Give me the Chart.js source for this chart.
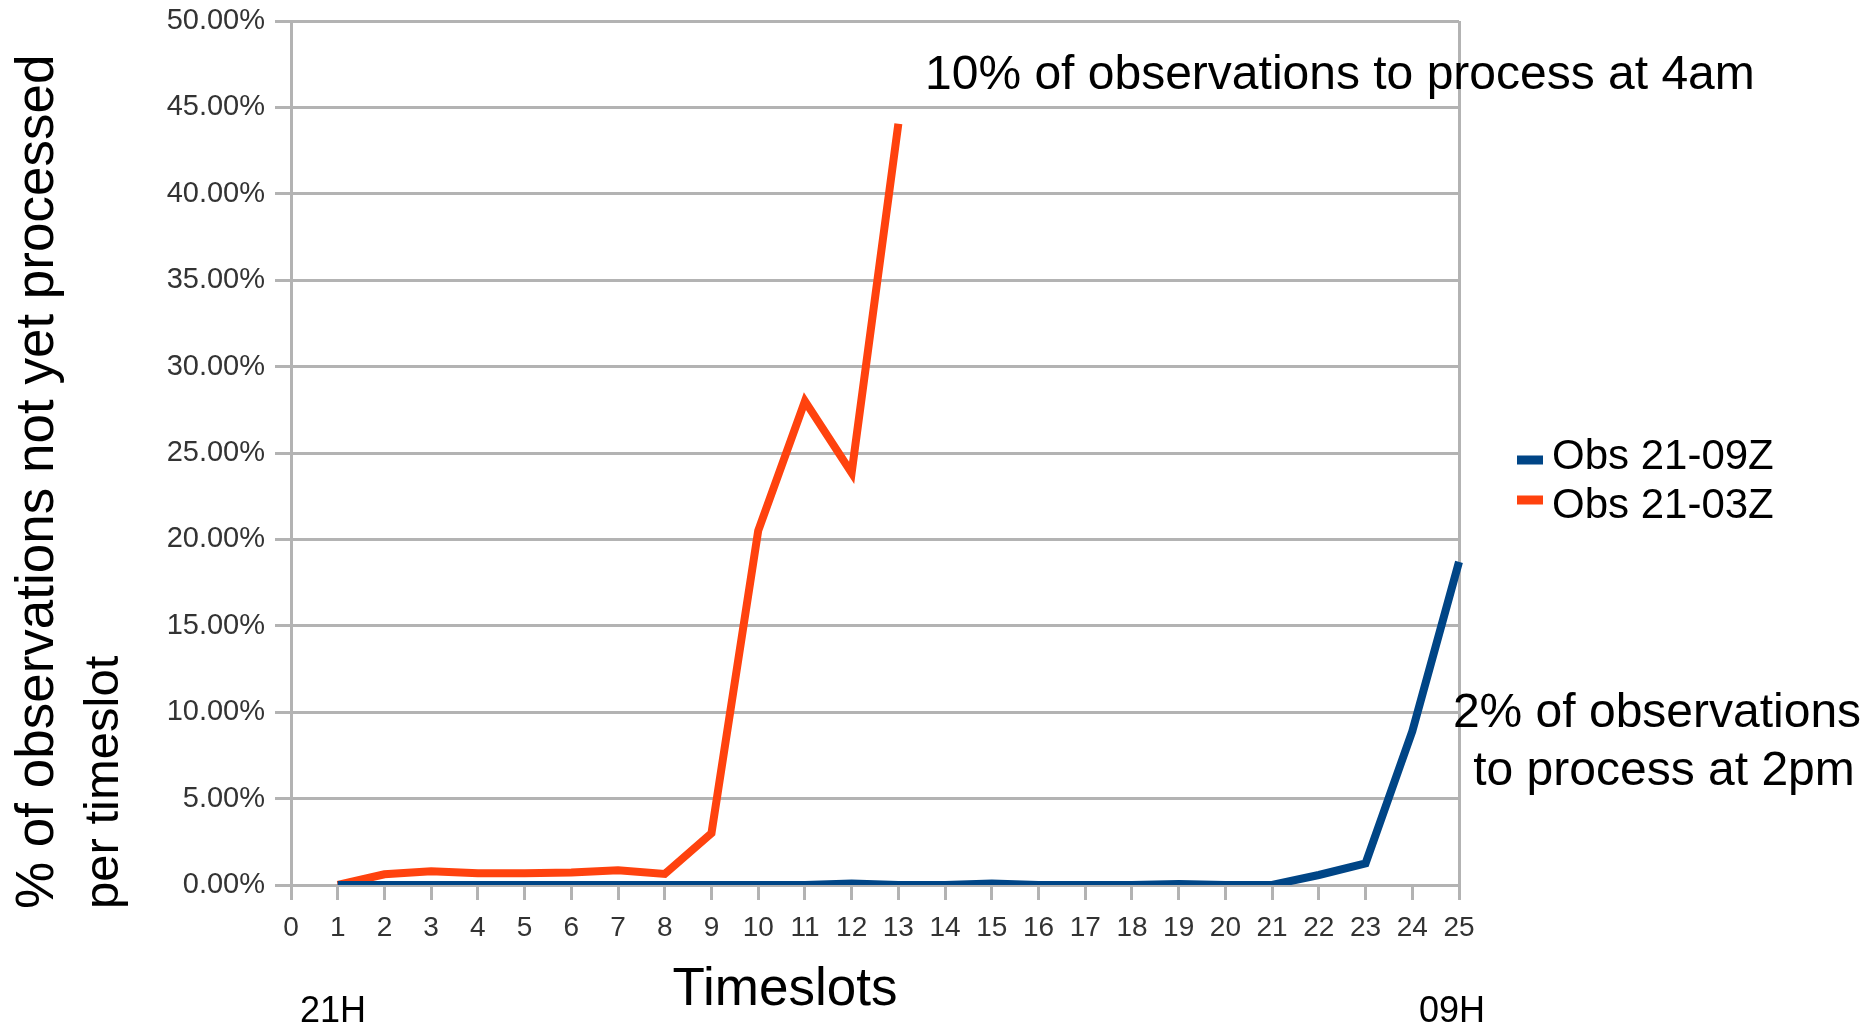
<!DOCTYPE html>
<html>
<head>
<meta charset="utf-8">
<title>Observations not yet processed per timeslot</title>
<script src="https://cdn.jsdelivr.net/npm/chart.js@4.4.1/dist/chart.umd.min.js"></script>
<style>
  html, body { margin: 0; padding: 0; background: #ffffff; }
</style>
</head>
<body>
<canvas id="chartObs" width="1863" height="1026"></canvas>
<script>
// timeslot labels on the x axis
const TIMESLOTS = ['0', '1', '2', '3', '4', '5', '6', '7', '8', '9', '10', '11', '12',
  '13', '14', '15', '16', '17', '18', '19', '20', '21', '22', '23', '24', '25'];

// % of observations not yet processed (slot 0 has no value)
const OBS_21_09Z = [null, 0, 0, 0, 0, 0, 0, 0, 0, 0, 0, 0, 0.08, 0, 0, 0.08, 0, 0, 0,
  0.06, 0, 0, 0.58, 1.25, 8.9, 18.7];
const OBS_21_03Z = [null, 0, 0.62, 0.8, 0.68, 0.68, 0.72, 0.86, 0.64, 3.0, 20.5, 28.0,
  23.85, 44.05, null, null, null, null, null, null, null, null, null, null, null, null];

const SERIES_LABELS = ['Obs 21-09Z', 'Obs 21-03Z'];
const Y_MAX = 50;
const Y_STEP = 5;

const BLUE = '#004586';
const ORANGE = '#ff420e';
const GRID = '#b3b3b3';
const TICK_TEXT = '#333333';
const FONT = "'Liberation Sans', Arial, sans-serif";

const textPlugin = {
  id: 'textPlugin',
  afterDraw(chart) {
    const { ctx } = chart;
    ctx.save();
    ctx.fillStyle = '#000000';
    ctx.textBaseline = 'alphabetic';

    // y axis title, two lines, rotated
    ctx.textAlign = 'left';
    ctx.save();
    ctx.font = `53px ${FONT}`;
    ctx.translate(53, 909);
    ctx.rotate(-Math.PI / 2);
    ctx.fillText('% of observations not yet processed', 0, 0);
    ctx.restore();
    ctx.save();
    ctx.font = `49px ${FONT}`;
    ctx.translate(118, 909);
    ctx.rotate(-Math.PI / 2);
    ctx.fillText('per timeslot', 0, 0);
    ctx.restore();

    // x axis title and time markers
    ctx.textAlign = 'center';
    ctx.font = `53px ${FONT}`;
    ctx.fillText('Timeslots', 785, 1005);
    ctx.font = `36px ${FONT}`;
    ctx.fillText('21H', 333, 1022);
    ctx.fillText('09H', 1452, 1022);

    // notes
    ctx.font = `48px ${FONT}`;
    ctx.textAlign = 'left';
    ctx.fillText('10% of observations to process at 4am', 925, 89);
    ctx.textAlign = 'center';
    ctx.fillText('2% of observations', 1657, 727);
    ctx.fillText('to process at 2pm', 1664, 785);

    // legend
    const markerY = [460, 500];
    const textY = [469, 518];
    ctx.font = `42px ${FONT}`;
    ctx.textAlign = 'left';
    chart.data.datasets.forEach((ds, i) => {
      ctx.fillStyle = ds.borderColor;
      ctx.fillRect(1517, markerY[i] - 4.5, 26, 9);
      ctx.fillStyle = '#000000';
      ctx.fillText(ds.label, 1552, textY[i]);
    });
    ctx.restore();
  },
};

const canvas = document.getElementById('chartObs');
new Chart(canvas.getContext('2d'), {
  type: 'line',
  data: {
    labels: TIMESLOTS,
    datasets: [
      {
        label: SERIES_LABELS[0],
        data: OBS_21_09Z,
        borderColor: BLUE,
        backgroundColor: BLUE,
        borderWidth: 8,
        pointRadius: 0,
        tension: 0,
        fill: false,
      },
      {
        label: SERIES_LABELS[1],
        data: OBS_21_03Z,
        borderColor: ORANGE,
        backgroundColor: ORANGE,
        borderWidth: 8,
        pointRadius: 0,
        tension: 0,
        fill: false,
      },
    ],
  },
  options: {
    responsive: false,
    animation: false,
    layout: { padding: { top: 21, right: 404, left: 0, bottom: 0 } },
    scales: {
      x: {
        type: 'category',
        offset: false,
        grid: {
          drawOnChartArea: true,
          color: (ctx) => (ctx.index === TIMESLOTS.length - 1 ? GRID : 'rgba(0,0,0,0)'),
          tickColor: GRID,
          lineWidth: 3,
          tickLength: 15,
        },
        border: { color: GRID, width: 3 },
        ticks: {
          color: TICK_TEXT,
          font: { family: FONT, size: 28 },
          padding: 11,
          maxRotation: 0,
          autoSkip: false,
        },
        afterFit: (scale) => { scale.height = 141; },
      },
      y: {
        min: 0,
        max: Y_MAX,
        grid: { color: GRID, lineWidth: 3, tickLength: 16 },
        border: { color: GRID, width: 3 },
        ticks: {
          stepSize: Y_STEP,
          color: TICK_TEXT,
          font: { family: FONT, size: 29 },
          padding: 10,
          callback: (value) => `${value.toFixed(2)}%`,
        },
        afterFit: (scale) => {
          scale.width = 291;
          scale.paddingTop = 0;
          scale.paddingBottom = 0;
        },
      },
    },
    plugins: {
      legend: { display: false },
      tooltip: { enabled: false },
    },
  },
  plugins: [textPlugin],
});
</script>
</body>
</html>
